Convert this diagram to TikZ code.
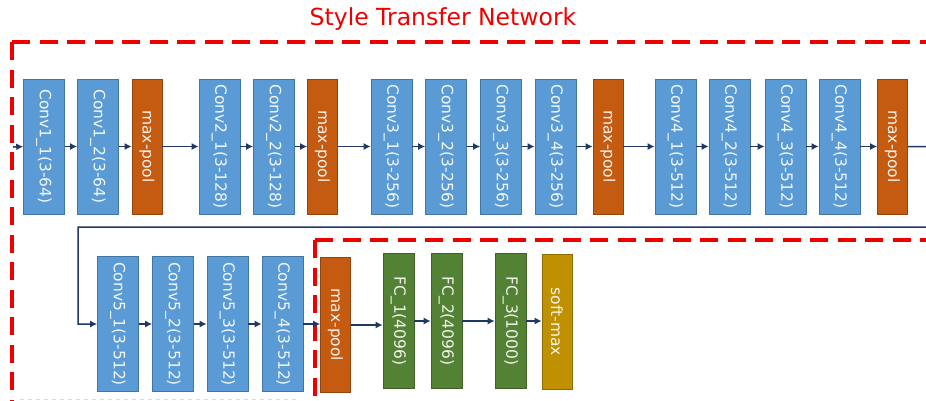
\documentclass[tikz,border=0pt]{standalone}
\usepackage{fontspec}
\setmainfont{DejaVu Sans}
\usepackage{graphicx}
\usetikzlibrary{arrows.meta}

\definecolor{convblue}{HTML}{5B9BD5}
\definecolor{poolorange}{HTML}{C55A11}
\definecolor{fcgreen}{HTML}{548235}
\definecolor{smaxgold}{HTML}{BF9000}
\definecolor{flownavy}{HTML}{1F3864}
\definecolor{netred}{HTML}{EE0000}

\newcommand{\vlab}[1]{\rotatebox{-90}{#1}}

\tikzset{
  layer/.style={draw=#1!75!black, fill=#1, line width=0.6pt, text=white!92!#1,
    minimum height=135pt, inner sep=0pt},
  conv/.style={layer=convblue, minimum width=41pt},
  pool/.style={layer=poolorange, minimum width=30pt},
  fc/.style={layer=fcgreen, minimum width=31pt},
  smax/.style={layer=smaxgold, minimum width=30pt},
  flow/.style={draw=flownavy, line width=1.5pt, -{Latex[length=7pt,width=7pt]}},
  region/.style={draw=netred, line width=3.5pt, dash pattern=on 18pt off 9.5pt}
}

\begin{document}
\begin{tikzpicture}[x=1pt, y=-1pt, font=\fontsize{15.5}{18}\selectfont]
\useasboundingbox (0,0) rectangle (926,400);
\clip (0,0) rectangle (926,400);

\node[text=netred, font=\fontsize{23.5}{27}\selectfont] (title) at (443,19) {Style Transfer Network};

% dashed network outline
\draw[region] (12,42) -- (960,42);
\draw[region] (12,42) -- (12,420);
\draw[region] (315,240) -- (960,240);
\draw[region] (315,240) -- (315,420);
\draw[netred, opacity=0.2, line width=1pt, dash pattern=on 4pt off 4pt] (20,399) -- (300,399);

% first row
\node[conv] (c11) at (44,146.5)    {\vlab{Conv1\_1(3-64)}};
\node[conv] (c12) at (98,146.5)    {\vlab{Conv1\_2(3-64)}};
\node[pool] (p1)  at (147,146.5)   {\vlab{max-pool}};
\node[conv] (c21) at (219.5,146.5) {\vlab{Conv2\_1(3-128)}};
\node[conv] (c22) at (274,146.5)   {\vlab{Conv2\_2(3-128)}};
\node[pool] (p2)  at (322.5,146.5) {\vlab{max-pool}};
\node[conv] (c31) at (391.5,146.5) {\vlab{Conv3\_1(3-256)}};
\node[conv] (c32) at (446,146.5)   {\vlab{Conv3\_2(3-256)}};
\node[conv] (c33) at (501,146.5)   {\vlab{Conv3\_3(3-256)}};
\node[conv] (c34) at (555.5,146.5) {\vlab{Conv3\_4(3-256)}};
\node[pool] (p3)  at (608,146.5)   {\vlab{max-pool}};
\node[conv] (c41) at (675.5,146.5) {\vlab{Conv4\_1(3-512)}};
\node[conv] (c42) at (729.5,146.5) {\vlab{Conv4\_2(3-512)}};
\node[conv] (c43) at (785.5,146.5) {\vlab{Conv4\_3(3-512)}};
\node[conv] (c44) at (839.5,146.5) {\vlab{Conv4\_4(3-512)}};
\node[pool] (p4)  at (892.5,146.5) {\vlab{max-pool}};

% second row
\node[conv] (c51) at (118,324)   {\vlab{Conv5\_1(3-512)}};
\node[conv] (c52) at (173,324)   {\vlab{Conv5\_2(3-512)}};
\node[conv] (c53) at (227.5,324) {\vlab{Conv5\_3(3-512)}};
\node[conv] (c54) at (282.5,324) {\vlab{Conv5\_4(3-512)}};
\node[pool] (p5)  at (335.5,325) {\vlab{max-pool}};
\node[fc]   (fc1) at (398.5,321) {\vlab{FC\_1(4096)}};
\node[fc]   (fc2) at (446.5,321) {\vlab{FC\_2(4096)}};
\node[fc]   (fc3) at (510.5,321) {\vlab{FC\_3(1000)}};
\node[smax] (sm)  at (557,322)   {\vlab{soft-max}};

% connectors
\coordinate (in) at (13,147);
\coordinate (out) at (960,147);
\coordinate (back) at (960,227);
\coordinate (turn) at (78,227);

\draw[flow] (in) -- (c11.west);
\foreach \a/\b in {c11/c12, c12/p1, p1/c21, c21/c22, c22/p2, p2/c31, c31/c32,
    c32/c33, c33/c34, c34/p3, p3/c41, c41/c42, c42/c43, c43/c44, c44/p4,
    c51/c52, c52/c53, c53/c54, c54/p5, p5/fc1, fc1/fc2, fc2/fc3, fc3/sm}
  \draw[flow] (\a.east) -- (\a.east -| \b.west);
\draw[flow] (p4.east) -- (out) -- (back) -- (turn) |- (c51.west);

\end{tikzpicture}
\end{document}
